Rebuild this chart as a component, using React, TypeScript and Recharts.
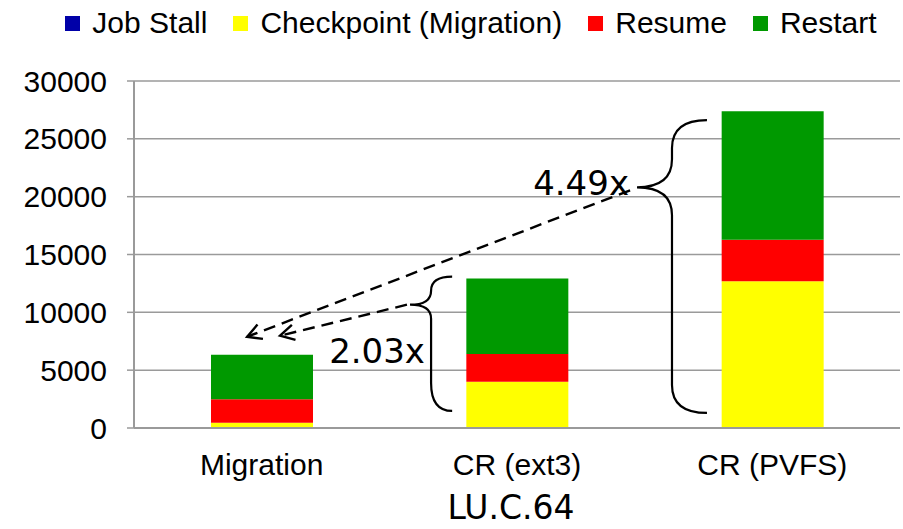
import React from 'react';
import {
  BarChart,
  Bar,
  XAxis,
  YAxis,
  CartesianGrid,
  Legend,
  ReferenceLine,
  ReferenceDot,
  Label,
} from 'recharts';

// ---- data ----
const categories = ['Migration', 'CR (ext3)', 'CR (PVFS)'];
const jobStall = [0, 0, 0];
const checkpoint = [460, 4000, 12690];
const resume = [2020, 2390, 3590];
const restart = [3860, 6530, 11100];
const yTicks = [0, 5000, 10000, 15000, 20000, 25000, 30000];
const boundaryTicks = [0, 1, 2, 3];
const seriesKeys = ['jobStall', 'checkpoint', 'resume', 'restart'];
const seriesNames = ['Job Stall', 'Checkpoint (Migration)', 'Resume', 'Restart'];
const seriesColors = ['#0000A8', '#FFFF00', '#FF0000', '#009900'];
const xTitle = 'LU.C.64';

// ---- annotations (data units: x on a 0..3 category-band axis, y in chart units) ----
const braceEndX = [1.246, 2.244];
const braceTipX = [1.081, 1.97];
const braceTop = [13090, 26620];
const braceBottom = [1474, 1300];
const braceTipY = [10660, 20810];

const arrowFromX = [1.069, 1.943];
const arrowFromY = [10660, 20550];
const arrowToX = [0.572, 0.443];
const arrowToY = [7980, 7890];

const ratioText = ['2.03x', '4.49x'];
const ratioX = [0.952, 1.751];
const ratioY = [6680, 21150];

const data = categories.map((name, i) => ({
  name,
  band: i + 0.5,
  jobStall: jobStall[i],
  checkpoint: checkpoint[i],
  resume: resume[i],
  restart: restart[i],
}));

const SANS = '"Liberation Sans", Arial, sans-serif';
const HAND = '"Comic Sans MS", "DejaVu Sans", sans-serif';
const GRAY = '#9a9a9a';

function braceShape(frac: number) {
  return (p: any) => {
    const xe = p.x1;
    const xt = p.x2;
    const yt = p.y1;
    const yb = p.y2;
    const ym = yt + (yb - yt) * frac;
    const xv = (xe + xt) / 2;
    const r1 = Math.min(28, (ym - yt) / 2);
    const r2 = Math.min(28, (yb - ym) / 2);
    const d = `M${xe},${yt} Q${xv},${yt} ${xv},${yt + r1} L${xv},${ym - r1} Q${xv},${ym} ${xt},${ym} Q${xv},${ym} ${xv},${ym + r1} L${xv},${yb - r2} Q${xv},${yb} ${xe},${yb}`;
    return <path d={d} fill="none" stroke="#000" strokeWidth={2.2} />;
  };
}

function arrowShape(p: any) {
  const { x1, y1, x2, y2 } = p;
  const ang = Math.atan2(y1 - y2, x1 - x2);
  const L = 16;
  const a = 0.5;
  const ax = x2 + L * Math.cos(ang + a);
  const ay = y2 + L * Math.sin(ang + a);
  const bx = x2 + L * Math.cos(ang - a);
  const by = y2 + L * Math.sin(ang - a);
  return (
    <g>
      <line x1={x1} y1={y1} x2={x2} y2={y2} stroke="#000" strokeWidth={2.4} strokeDasharray="12 7" />
      <polyline points={`${ax},${ay} ${x2},${y2} ${bx},${by}`} fill="none" stroke="#000" strokeWidth={2.4} />
    </g>
  );
}

const renderLegend = () => (
  <div
    style={{
      height: 81,
      width: 903,
      display: 'flex',
      justifyContent: 'center',
      alignItems: 'flex-start',
      paddingLeft: 39,
      paddingTop: 6,
      boxSizing: 'border-box',
      fontFamily: SANS,
      fontSize: 30,
      color: '#000',
    }}
  >
    {seriesNames.map((n, i) => (
      <div key={n} style={{ display: 'flex', alignItems: 'center', marginRight: i < 3 ? 26 : 0 }}>
        <span
          style={{
            width: 15,
            height: 15,
            background: seriesColors[i],
            marginRight: 12,
            display: 'inline-block',
          }}
        />
        <span style={{ lineHeight: '34px', whiteSpace: 'nowrap' }}>{n}</span>
      </div>
    ))}
  </div>
);

export default function App() {
  return (
    <div style={{ position: 'absolute', left: 0, top: 0, background: '#fff' }}>
      <BarChart width={903} height={529} data={data} margin={{ top: 0, right: 3, bottom: 0, left: 0 }}>
        <CartesianGrid xAxisId="b_cat" vertical={false} stroke={GRAY} strokeWidth={1.5} />
        <Legend
          verticalAlign="top"
          align="left"
          content={renderLegend}
          wrapperStyle={{ left: 0, top: 0, width: 903, height: 81, margin: 0, padding: 0 }}
        />
        <XAxis
          xAxisId="a_num"
          dataKey="band"
          type="number"
          domain={[0, 3]}
          ticks={boundaryTicks}
          allowDataOverflow
          tick={false}
          tickSize={7}
          height={1}
          axisLine={{ stroke: GRAY, strokeWidth: 2 }}
          tickLine={{ stroke: GRAY, strokeWidth: 1.5 }}
        />
        <XAxis
          xAxisId="b_cat"
          dataKey="name"
          type="category"
          height={100}
          axisLine={false}
          tickLine={false}
          tickSize={0}
          tickMargin={25}
          interval={0}
          tick={{ fontSize: 30, fill: '#000', fontFamily: SANS }}
        >
          <Label value={xTitle} position="insideBottom" offset={10} dx={-6} fontSize={33} fill="#000" fontFamily={HAND} />
        </XAxis>
        <YAxis
          domain={[0, 30000]}
          ticks={yTicks}
          interval={0}
          width={134}
          tickSize={7}
          tickMargin={20}
          axisLine={{ stroke: GRAY, strokeWidth: 2 }}
          tickLine={{ stroke: GRAY, strokeWidth: 1.5 }}
          tick={{ fontSize: 30, fill: '#000', fontFamily: SANS }}
        />
        {seriesKeys.map((k, i) => (
          <Bar
            key={k}
            xAxisId="b_cat"
            dataKey={k}
            name={seriesNames[i]}
            stackId="a"
            fill={seriesColors[i]}
            barSize={102}
            isAnimationActive={false}
          />
        ))}
        {braceEndX.map((ex, i) => (
          <ReferenceLine
            key={'brace' + i}
            xAxisId="a_num"
            ifOverflow="visible"
            segment={[
              { x: ex, y: braceTop[i] },
              { x: braceTipX[i], y: braceBottom[i] },
            ]}
            shape={braceShape((braceTop[i] - braceTipY[i]) / (braceTop[i] - braceBottom[i]))}
          />
        ))}
        {arrowFromX.map((fx, i) => (
          <ReferenceLine
            key={'arrow' + i}
            xAxisId="a_num"
            ifOverflow="visible"
            segment={[
              { x: fx, y: arrowFromY[i] },
              { x: arrowToX[i], y: arrowToY[i] },
            ]}
            shape={arrowShape}
          />
        ))}
        {ratioText.map((t, i) => (
          <ReferenceDot
            key={'ratio' + i}
            xAxisId="a_num"
            x={ratioX[i]}
            y={ratioY[i]}
            r={0}
            ifOverflow="visible"
            shape={(p: any) => (
              <text
                x={p.cx}
                y={p.cy}
                textAnchor="middle"
                dominantBaseline="central"
                fontSize={34}
                fontFamily={HAND}
                fill="#000"
              >
                {t}
              </text>
            )}
          />
        ))}
      </BarChart>
    </div>
  );
}
